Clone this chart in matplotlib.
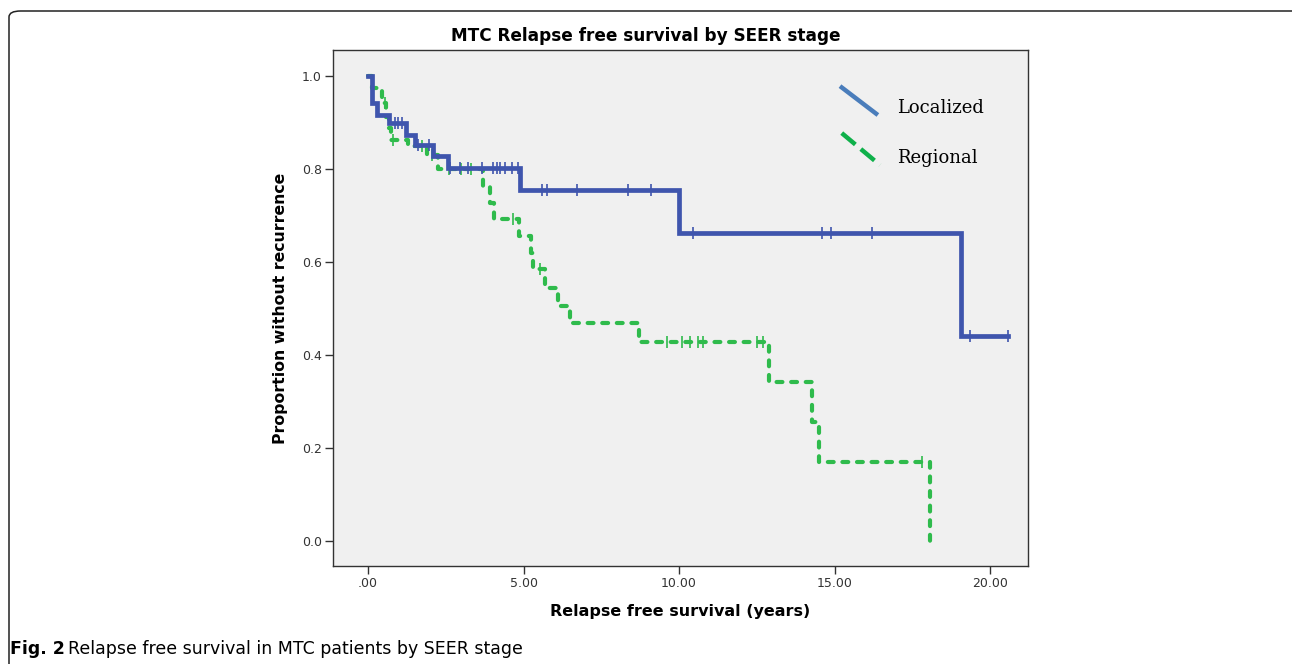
import numpy as np
import matplotlib
matplotlib.use('Agg')
import matplotlib.pyplot as plt
from matplotlib.patches import FancyBboxPatch

# Kaplan-Meier steps (years, proportion)
loc_times = [0.0, 0.13, 0.29, 0.68, 1.22, 1.51, 2.09, 2.57, 4.89, 10.0, 19.05, 20.58]
loc_surv = [1.0, 0.942, 0.916, 0.899, 0.873, 0.852, 0.828, 0.802, 0.755, 0.662, 0.440, 0.440]
loc_cens_t = [0.87, 0.96, 1.09, 1.62, 1.95, 2.65, 2.96, 3.22, 3.67, 4.02, 4.15, 4.24, 4.41,
              4.63, 4.82, 5.59, 5.76, 6.72, 8.36, 9.10, 10.45, 14.6, 14.9, 16.2, 19.36, 20.58]

reg_times = [0.0, 0.13, 0.45, 0.58, 0.68, 0.75, 1.29, 1.9, 2.25, 3.7, 3.92, 4.05, 4.86,
             5.24, 5.3, 5.69, 6.1, 6.5, 8.7, 12.9, 14.28, 14.5, 18.07]
reg_surv = [1.0, 0.974, 0.942, 0.912, 0.888, 0.862, 0.850, 0.830, 0.800, 0.761, 0.727,
            0.692, 0.656, 0.620, 0.585, 0.544, 0.505, 0.469, 0.428, 0.342, 0.256, 0.170, 0.0]
reg_cens_t = [0.55, 0.82, 1.75, 2.05, 2.6, 3.0, 3.3, 4.66, 5.53, 9.6, 10.1, 10.35, 10.6,
              10.77, 12.5, 12.7, 17.8]

x_ticks = [0, 5, 10, 15, 20]
x_tick_labels = ['.00', '5.00', '10.00', '15.00', '20.00']
y_ticks = [0.0, 0.2, 0.4, 0.6, 0.8, 1.0]
y_tick_labels = ['0.0', '0.2', '0.4', '0.6', '0.8', '1.0']
series_labels = ['Localized', 'Regional']

C_LOC = '#3f55ad'
C_REG = '#2fbb4c'
C_LEG_LOC = '#4a7dbb'
C_LEG_REG = '#0fb04a'


def level_at(times, surv, t):
    idx = np.searchsorted(times, t, side='right') - 1
    return surv[max(idx, 0)]


fig = plt.figure(figsize=(12.92, 6.64), dpi=100)

frame = FancyBboxPatch((9 / 1292, -0.1), 1.2, 1 - 11 / 664 + 0.1,
                       boxstyle='round,pad=0,rounding_size=0.009',
                       transform=fig.transFigure, facecolor='white',
                       edgecolor='#222222', lw=1.1, zorder=-5)
fig.patches.append(frame)

ax = fig.add_axes([333 / 1292, 1 - 566 / 664, 695 / 1292, 516 / 664])
ax.set_zorder(2)
ax.set_facecolor('#f0f0f0')
for s in ax.spines.values():
    s.set_color('#333333')
    s.set_linewidth(1.0)

ax.step(loc_times, loc_surv, where='post', color=C_LOC, lw=3.4,
        solid_joinstyle='miter', zorder=3)
ax.plot(loc_cens_t, [level_at(loc_times, loc_surv, t) for t in loc_cens_t], '|',
        color=C_LOC, ms=8, mew=1.2, zorder=4)

ax.step(reg_times, reg_surv, where='post', color=C_REG, lw=3.0,
        linestyle=(0, (1.4, 2.1)), dash_capstyle='round', zorder=2)
ax.plot(reg_cens_t, [level_at(reg_times, reg_surv, t) for t in reg_cens_t], '|',
        color=C_REG, ms=8, mew=1.2, zorder=2)

ax.set_xlim(-1.125, 21.22)
ax.set_ylim(-0.054, 1.056)
ax.set_xticks(x_ticks)
ax.set_xticklabels(x_tick_labels)
ax.set_yticks(y_ticks)
ax.set_yticklabels(y_tick_labels)
ax.tick_params(axis='both', direction='out', length=6, width=1.0, color='#333333',
               labelsize=9, labelcolor='#333333', pad=2)

fig.text(646 / 1292, 1 - 36 / 664, 'MTC Relapse free survival by SEER stage',
         fontsize=12.2, fontweight='bold', ha='center', va='center')
ax.set_xlabel('Relapse free survival (years)', fontsize=11.5, fontweight='bold', labelpad=10)
ax.set_ylabel('Proportion without recurrence', fontsize=11.3, fontweight='bold', labelpad=10)

# hand drawn legend
ax.plot([0.7295, 0.784], [0.930, 0.874], transform=ax.transAxes, color=C_LEG_LOC,
        lw=3.2, solid_capstyle='butt', zorder=5)
ax.plot([0.732, 0.787], [0.839, 0.777], transform=ax.transAxes, color=C_LEG_REG,
        lw=3.2, linestyle=(0, (4, 1.6, 4, 1.6, 0.8, 1.6)), solid_capstyle='butt', zorder=5)
ax.text(0.8115, 0.8876, series_labels[0], transform=ax.transAxes, fontsize=13,
        family='DejaVu Serif', va='center', ha='left')
ax.text(0.8115, 0.7907, series_labels[1], transform=ax.transAxes, fontsize=13,
        family='DejaVu Serif', va='center', ha='left')

fig.text(10 / 1292, 1 - 649 / 664, 'Fig. 2', fontsize=12.5, fontweight='bold',
         va='center', ha='left')
fig.text(68 / 1292, 1 - 649 / 664, 'Relapse free survival in MTC patients by SEER stage',
         fontsize=12.5, va='center', ha='left')

fig.savefig('out.png', dpi=100)
